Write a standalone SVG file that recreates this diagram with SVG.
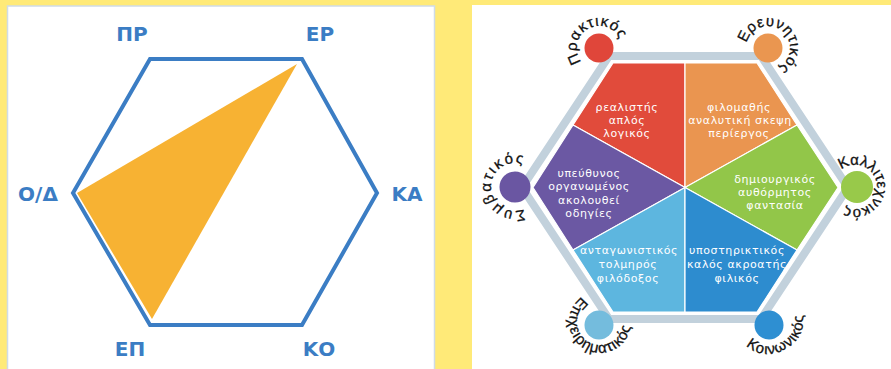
<svg xmlns="http://www.w3.org/2000/svg" width="891" height="369" viewBox="0 0 891 369">
<style>
.code{font-family:"DejaVu Sans","Liberation Sans",sans-serif;font-weight:bold;font-size:20px;fill:#3B7DC4;text-anchor:middle}
.lbl{font-family:"Liberation Sans","DejaVu Sans",sans-serif;font-size:15px;fill:#111111;stroke:#111111;stroke-width:0.3}
.in{font-family:"DejaVu Sans","Liberation Sans",sans-serif;font-size:11px;fill:#FFFFFF;text-anchor:middle;letter-spacing:0.6px}
.sec{stroke:#FFFFFF;stroke-width:1.2;stroke-linejoin:round}
</style>
<defs>
<path id="pPR" d="M610,67.05 A22,22 0 1 1 588,28.95 A22,22 0 1 1 610,67.05"/>
<path id="pER" d="M754.46,65.34 A22,22 0 1 1 781.54,30.66 A22,22 0 1 1 754.46,65.34"/>
<path id="pSY" d="M539,187 A24,24 0 1 1 491,187 A24,24 0 1 1 539,187"/>
<path id="pKA" d="M833.12,189.3 A22,22 0 1 1 876.88,184.7 A22,22 0 1 1 833.12,189.3"/>
<path id="pEP" d="M615.5,295.15 A31,31 0 1 0 584.5,348.85 A31,31 0 1 0 615.5,295.15"/>
<path id="pKO" d="M755,295 A31,31 0 1 0 785,349 A31,31 0 1 0 755,295"/>
</defs>
<rect x="0" y="0" width="891" height="369" fill="#FFEA78"/>
<rect x="7.5" y="6" width="427" height="370" fill="#FFFFFF" stroke="#CFDCE8" stroke-width="1.5"/>
<rect x="472" y="5" width="425" height="370" fill="#FFFFFF"/>

<g id="left-diagram">
  <polygon points="297,64 77,193 152,319" fill="#F7B233"/>
  <polygon points="150,59 302,59 377,193 302,325 150,325 73,193" fill="none" stroke="#3B7DC4" stroke-width="4" stroke-linejoin="miter"/>
  <g id="l-PR"><text class="code" x="132" y="41">ΠΡ</text></g>
  <g id="l-ER"><text class="code" x="320" y="41">ΕΡ</text></g>
  <g id="l-OD"><text class="code" x="38" y="201">Ο/Δ</text></g>
  <g id="l-KA"><text class="code" x="407" y="201">ΚΑ</text></g>
  <g id="l-EP"><text class="code" x="130" y="356">ΕΠ</text></g>
  <g id="l-KO"><text class="code" x="319" y="356">ΚΟ</text></g>
</g>

<g id="right-frame">
  <polygon points="609,56 761,56 848,187.5 761,319 609,319 522,187.5" fill="none" stroke="#C2D1DC" stroke-width="8" stroke-linejoin="miter"/>
</g>

<g id="n-praktikos">
  <polygon class="sec" points="685,187.5 685,63 613,63 573,125" fill="#E14B3B"/>
  <circle cx="599" cy="48" r="14.5" fill="#E0463A"/>
  <text class="lbl" letter-spacing="0.9"><textPath href="#pPR" startOffset="50%" text-anchor="middle">Πρακτικός</textPath></text>
  <text class="in" x="627" y="110.5">ρεαλιστής</text>
  <text class="in" x="627" y="123.5">απλός</text>
  <text class="in" x="627" y="136.5">λογικός</text>
</g>

<g id="n-ereunitikos">
  <polygon class="sec" points="685,187.5 797,125 757,63 685,63" fill="#EA9550"/>
  <circle cx="768" cy="48" r="14.5" fill="#EA9650"/>
  <text class="lbl" letter-spacing="0.6"><textPath href="#pER" startOffset="50%" text-anchor="middle">Ερευνητικός</textPath></text>
  <text class="in" x="739" y="110.5">φιλομαθής</text>
  <text class="in" x="740" y="123.5">αναλυτική σκεψη</text>
  <text class="in" x="739" y="136.5">περίεργος</text>
</g>

<g id="n-symvatikos">
  <polygon class="sec" points="685,187.5 573,125 533,187.5 573,250" fill="#6B58A3"/>
  <circle cx="515" cy="187" r="15.5" fill="#6A56A2"/>
  <text class="lbl" letter-spacing="1.8"><textPath href="#pSY" startOffset="50%" text-anchor="middle">Συμβατικός</textPath></text>
  <text class="in" x="589" y="176.5">υπεύθυνος</text>
  <text class="in" x="589" y="190">οργανωμένος</text>
  <text class="in" x="589" y="203.5">ακολουθεί</text>
  <text class="in" x="589" y="217">οδηγίες</text>
</g>

<g id="n-kallitexnikos">
  <polygon class="sec" points="685,187.5 797,250 838,187.5 797,125" fill="#92C649"/>
  <circle cx="857" cy="187" r="16" fill="#98C94A"/>
  <text class="lbl" font-size="14" letter-spacing="0.2"><textPath href="#pKA" startOffset="50%" text-anchor="middle">Καλλιτεχνικός</textPath></text>
  <text class="in" x="775" y="182.5">δημιουργικός</text>
  <text class="in" x="775" y="195.5">αυθόρμητος</text>
  <text class="in" x="775" y="208.5">φαντασία</text>
</g>

<g id="n-epixeirimatikos">
  <polygon class="sec" points="685,187.5 573,250 613,312 685,312" fill="#5DB6DF"/>
  <circle cx="599" cy="325" r="14.5" fill="#74BCDD"/>
  <text class="lbl" letter-spacing="1"><textPath href="#pEP" startOffset="50%" text-anchor="middle">Επιχειρηματικός</textPath></text>
  <text class="in" x="629" y="254">ανταγωνιστικός</text>
  <text class="in" x="628" y="268">τολμηρός</text>
  <text class="in" x="628" y="281.5">φιλόδοξος</text>
</g>

<g id="n-koinonikos">
  <polygon class="sec" points="685,187.5 685,312 757,312 797,250" fill="#2D8CCF"/>
  <circle cx="769" cy="325" r="14.5" fill="#2E8FD2"/>
  <text class="lbl" letter-spacing="1"><textPath href="#pKO" startOffset="50%" text-anchor="middle">Κοινωνικός</textPath></text>
  <text class="in" x="737" y="254">υποστηρικτικός</text>
  <text class="in" x="737" y="268">καλός ακροατής</text>
  <text class="in" x="737" y="281.5">φιλικός</text>
</g>

<g id="connectors"></g>
</svg>
